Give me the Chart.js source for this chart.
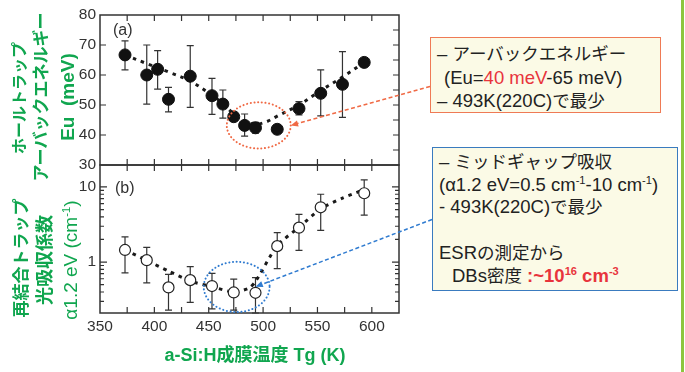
<!DOCTYPE html>
<html lang="ja">
<head>
    <meta charset="UTF-8">
    <title>a-Si:H 成膜温度とトラップ</title>
    <script src="https://cdn.jsdelivr.net/npm/chart.js"></script>
    <style>
        body {
            margin: 0;
            background: #fff;
            font-family: 'Liberation Sans', 'Noto Sans CJK JP', sans-serif;
        }
        #quadro {
            position: relative;
            width: 685px;
            height: 372px;
            overflow: hidden;
        }
        #grafico {
            position: absolute;
            left: 0;
            top: 0;
        }
        .ytit {
            position: absolute;
            transform: translate(-50%, -50%) rotate(-90deg);
            white-space: nowrap;
            color: #10a64f;
            font-weight: bold;
            line-height: 1;
        }
        .xtit {
            position: absolute;
            transform: translate(-50%, -50%);
            white-space: nowrap;
            color: #10a64f;
            font-weight: bold;
            font-size: 18px;
        }
        .caixa {
            position: absolute;
            background: #fbfae6;
            box-sizing: border-box;
            color: #222;
            font-size: 18.5px;
            white-space: nowrap;
        }
        .caixa .jp { font-size: 17.5px; }
        .caixa sup, .ytit sup {
            font-size: 0.6em;
            line-height: 0;
            vertical-align: 0.6em;
        }
        .verm { color: #e8343c; }
        .linha-verde {
            position: absolute;
            left: 681px;
            top: 0;
            width: 2.5px;
            height: 372px;
            background: #8cc63e;
        }
    </style>
</head>
<body>
<div id="quadro">
    <canvas id="grafico" width="685" height="372"></canvas>

    <div class="ytit" style="left:20px; top:98px; font-size:16px;">ホールトラップ</div>
    <div class="ytit" style="left:41px; top:97px; font-size:17px;">アーバックエネルギー</div>
    <div class="ytit" style="left:67px; top:97px; font-size:19px;">Eu&nbsp;&nbsp;(meV)</div>
    <div class="ytit" style="left:21px; top:258px; font-size:17px;">再結合トラップ</div>
    <div class="ytit" style="left:45px; top:260px; font-size:18px;">光吸収係数</div>
    <div class="ytit" style="left:70px; top:260px; font-size:19px; font-weight:normal;">α1.2 eV (cm<sup>-1</sup>)</div>

    <div class="xtit" style="left:255px; top:353px;">a-Si:H成膜温度 Tg (K)</div>

    <div class="caixa" style="left:430px; top:37px; width:231px; height:76px; border:1.5px solid #ef7a55; padding:4px 0 0 6px; line-height:23px;">
        <div>– <span class="jp">アーバックエネルギー</span></div>
        <div style="padding-left:7px;">(Eu=<span class="verm">40 meV</span>-65 meV)</div>
        <div>– 493K(220C)<span class="jp">で最少</span></div>
    </div>

    <div class="caixa" style="left:432px; top:147px; width:246px; height:144px; border:1.5px solid #3a7bbf; padding:3px 0 0 6px; line-height:22.7px;">
        <div>– <span class="jp">ミッドギャップ吸収</span></div>
        <div>(α1.2 eV=0.5 cm<sup>-1</sup>-10 cm<sup>-1</sup>)</div>
        <div>- 493K(220C)<span class="jp">で最少</span></div>
        <div>&nbsp;</div>
        <div>ESR<span class="jp">の測定から</span></div>
        <div style="padding-left:13px;">DBs<span class="jp">密度</span> <b class="verm">:~10<sup>16</sup> cm<sup>-3</sup></b></div>
    </div>

    <div class="linha-verde"></div>
</div>

<script>
    // (a) Urbach energy, filled circles
    const tempA = [373, 393, 403, 413, 433, 453, 463, 473, 483, 493, 513, 533, 553, 573, 593];
    const energiaEu = [66.7, 60, 61.9, 51.9, 59.6, 53.1, 50.3, 46.1, 43.2, 42.4, 41.9, 48.8, 53.9, 56.9, 64.2];
    const euErroSup = [71.4, 70, 68.1, 55.9, 69.8, 58.9, 55, null, 47, 44.2, null, 51.1, 61.7, 67.8, null];
    const euErroInf = [61.7, 50.3, 55.3, 47.7, 49.2, 46.9, 45.6, null, 39.6, 40.6, null, 46.7, 46.4, 45.9, null];

    // (a) dotted guide line
    const guiaAx = [373, 393, 413, 433, 453, 463, 473, 483, 493, 503, 513, 533, 553, 573, 593];
    const guiaAy = [66.7, 63.8, 61, 58, 53.2, 50.5, 47, 44.5, 43.6, 44.4, 46.3, 50, 54.8, 59.3, 64.2];

    // (b) absorption at 1.2 eV, open circles
    const tempB = [373, 393, 413, 433, 453, 473, 493, 513, 533, 553, 593];
    const alfa = [1.45, 1.06, 0.46, 0.575, 0.48, 0.394, 0.39, 1.63, 2.87, 5.36, 8.24];
    const alfaErroSup = [2.17, 1.57, 0.685, 0.87, 0.706, 0.593, 0.62, 2.46, 4.32, 8.0, 12.4];
    const alfaErroInf = [0.72, 0.53, 0.23, 0.29, 0.238, 0.229, 0.21, 0.82, 1.43, 2.65, 4.23];

    // (b) dotted guide line
    const guiaBx = [373, 393, 413, 433, 453, 473, 487, 493, 513, 533, 553, 573, 590];
    const guiaBy = [1.45, 1.05, 0.76, 0.56, 0.47, 0.4, 0.45, 0.55, 1.65, 2.9, 5.1, 7.1, 8.9];

    const ticksX = [350, 400, 450, 500, 550, 600];

    const corEixo = '#333';
    const fonteTick = { family: "'Liberation Sans', sans-serif", size: 15.5 };

    function pares(xs, ys) {
        return xs.map((x, i) => ({ x: x, y: ys[i] }));
    }

    // dotted ellipses (data coordinates)
    const elipses = [
        { eixo: 'yA', cx: 496, cy: 43.2, rx: 29.4, ry: 7.7, cor: '#f06a45' },
        { eixo: 'yB', cx: 475.7, cy: 0.467, rx: 30.3, ry: 0.3, cor: '#2f7bd0' }
    ];

    const ctx = document.getElementById('grafico').getContext('2d');

    const molduraPlugin = {
        id: 'moldura',
        beforeDatasetsDraw(chart) {
            const c = chart.ctx;
            const x = chart.scales.x;
            c.save();
            c.strokeStyle = '#333';
            c.lineWidth = 1.2;
            const barras = (xs, sup, inf, esc) => {
                xs.forEach((t, i) => {
                    if (sup[i] == null) return;
                    const px = x.getPixelForValue(t);
                    const y1 = esc.getPixelForValue(sup[i]);
                    const y2 = Math.min(esc.getPixelForValue(inf[i]), esc.bottom);
                    c.beginPath();
                    c.moveTo(px, y1); c.lineTo(px, y2);
                    c.moveTo(px - 3.5, y1); c.lineTo(px + 3.5, y1);
                    c.moveTo(px - 3.5, y2); c.lineTo(px + 3.5, y2);
                    c.stroke();
                });
            };
            barras(tempA, euErroSup, euErroInf, chart.scales.yA);
            barras(tempB, alfaErroSup, alfaErroInf, chart.scales.yB);
            c.restore();
        },
        afterDatasetsDraw(chart) {
            const c = chart.ctx;
            const x = chart.scales.x;
            const area = chart.chartArea;
            const paineis = [chart.scales.yA, chart.scales.yB];
            c.save();

            // frames
            c.strokeStyle = corEixo;
            c.lineWidth = 1.5;
            paineis.forEach(p => {
                c.strokeRect(area.left, p.top, area.right - area.left, p.bottom - p.top);
            });

            // inward ticks
            c.lineWidth = 1.2;
            c.beginPath();
            for (let t = 375; t < 625; t += 25) {
                const px = x.getPixelForValue(t);
                paineis.forEach(p => {
                    c.moveTo(px, p.top); c.lineTo(px, p.top + 6);
                    c.moveTo(px, p.bottom); c.lineTo(px, p.bottom - 6);
                });
            }
            const yA = chart.scales.yA;
            for (let v = 35; v < 80; v += 5) {
                const py = yA.getPixelForValue(v);
                if (v % 10 === 0) {
                    c.moveTo(area.left, py); c.lineTo(area.left + 6, py);
                }
                c.moveTo(area.right, py); c.lineTo(area.right - 6, py);
            }
            const yB = chart.scales.yB;
            [0.1, 1, 10].forEach(dec => {
                for (let k = 1; k <= 9; k++) {
                    const v = k * dec;
                    if (v <= yB.min || v >= yB.max) continue;
                    const py = yB.getPixelForValue(v);
                    const len = k === 1 ? 7 : 4;
                    c.moveTo(area.left, py); c.lineTo(area.left + len, py);
                    c.moveTo(area.right, py); c.lineTo(area.right - len, py);
                }
            });
            c.stroke();

            // panel labels
            c.fillStyle = corEixo;
            c.font = "16px 'Liberation Sans', sans-serif";
            c.textBaseline = 'middle';
            c.fillText('(a)', area.left + 13, yA.top + 16);
            c.fillText('(b)', area.left + 15, yB.top + 24);

            // dotted ellipses
            c.lineWidth = 2;
            c.lineCap = 'round';
            c.setLineDash([0.1, 3.6]);
            elipses.forEach(e => {
                const esc = chart.scales[e.eixo];
                const cx = x.getPixelForValue(e.cx);
                const cy = esc.getPixelForValue(e.cy);
                const rx = x.getPixelForValue(e.cx + e.rx) - cx;
                let ry;
                if (e.eixo === 'yB') {
                    ry = (esc.getPixelForValue(0.21) - esc.getPixelForValue(0.98)) / 2;
                } else {
                    ry = cy - esc.getPixelForValue(e.cy + e.ry);
                }
                c.strokeStyle = e.cor;
                c.beginPath();
                c.ellipse(cx, cy, rx, ry, 0, 0, Math.PI * 2);
                c.stroke();
            });

            // dashed arrows from the boxes
            const setas = [
                { de: [430, 86.5], ate: [x.getPixelForValue(525.4), yA.getPixelForValue(43.2)], cor: '#f06a45' },
                { de: [432, 219.5], ate: [x.getPixelForValue(493), yB.getPixelForValue(0.469)], cor: '#2f7bd0' }
            ];
            c.lineCap = 'butt';
            c.lineWidth = 1.5;
            setas.forEach(s => {
                const [x1, y1] = s.de;
                const [x2, y2] = s.ate;
                const ang = Math.atan2(y2 - y1, x2 - x1);
                c.strokeStyle = s.cor;
                c.fillStyle = s.cor;
                c.setLineDash([4, 2.5]);
                c.beginPath();
                c.moveTo(x1, y1);
                c.lineTo(x2 - 6 * Math.cos(ang), y2 - 6 * Math.sin(ang));
                c.stroke();
                c.setLineDash([]);
                c.beginPath();
                c.moveTo(x2, y2);
                c.lineTo(x2 - 8 * Math.cos(ang - 0.4), y2 - 8 * Math.sin(ang - 0.4));
                c.lineTo(x2 - 8 * Math.cos(ang + 0.4), y2 - 8 * Math.sin(ang + 0.4));
                c.closePath();
                c.fill();
            });
            c.restore();
        }
    };

    const grafico = new Chart(ctx, {
        type: 'scatter',
        data: {
            datasets: [
                {
                    label: 'guia a',
                    data: pares(guiaAx, guiaAy),
                    yAxisID: 'yA',
                    showLine: true,
                    borderColor: '#1a1a1a',
                    borderWidth: 3,
                    borderDash: [3.5, 5],
                    tension: 0.35,
                    pointRadius: 0,
                    order: 3
                },
                {
                    label: 'guia b',
                    data: pares(guiaBx, guiaBy),
                    yAxisID: 'yB',
                    showLine: true,
                    borderColor: '#1a1a1a',
                    borderWidth: 3,
                    borderDash: [3.5, 5],
                    tension: 0.25,
                    pointRadius: 0,
                    order: 3
                },
                {
                    label: 'Eu',
                    data: pares(tempA, energiaEu),
                    yAxisID: 'yA',
                    pointRadius: 6,
                    pointBackgroundColor: '#111',
                    pointBorderColor: '#111',
                    pointBorderWidth: 1,
                    order: 1
                },
                {
                    label: 'alfa',
                    data: pares(tempB, alfa),
                    yAxisID: 'yB',
                    pointRadius: 5.5,
                    pointBackgroundColor: '#fff',
                    pointBorderColor: '#222',
                    pointBorderWidth: 1.2,
                    order: 1
                }
            ]
        },
        options: {
            responsive: false,
            animation: false,
            layout: { padding: { top: 15, right: 286, left: 0, bottom: 0 } },
            plugins: {
                legend: { display: false },
                tooltip: { enabled: false }
            },
            scales: {
                x: {
                    type: 'linear',
                    position: 'bottom',
                    min: 350,
                    max: 625,
                    afterBuildTicks: s => { s.ticks = ticksX.map(v => ({ value: v })); },
                    ticks: { color: corEixo, font: fonteTick, padding: 4, maxRotation: 0, autoSkip: false },
                    grid: { display: false, drawTicks: false },
                    border: { display: false },
                    afterFit: s => { s.height = 59; }
                },
                yB: {
                    type: 'logarithmic',
                    position: 'left',
                    stack: 'paineis',
                    stackWeight: 148,
                    min: 0.21,
                    max: 19.6,
                    afterBuildTicks: s => { s.ticks = [{ value: 1 }, { value: 10 }]; },
                    ticks: { color: corEixo, font: fonteTick, padding: 4, autoSkip: false, callback: v => String(v) },
                    grid: { display: false, drawTicks: false },
                    border: { display: false },
                    afterFit: s => { s.width = 100; }
                },
                yA: {
                    type: 'linear',
                    position: 'left',
                    stack: 'paineis',
                    stackWeight: 150,
                    min: 30,
                    max: 80,
                    ticks: { stepSize: 10, color: corEixo, font: fonteTick, padding: 4, autoSkip: false },
                    grid: { display: false, drawTicks: false },
                    border: { display: false },
                    afterFit: s => { s.width = 100; }
                }
            }
        },
        plugins: [molduraPlugin]
    });
</script>
</body>
</html>
